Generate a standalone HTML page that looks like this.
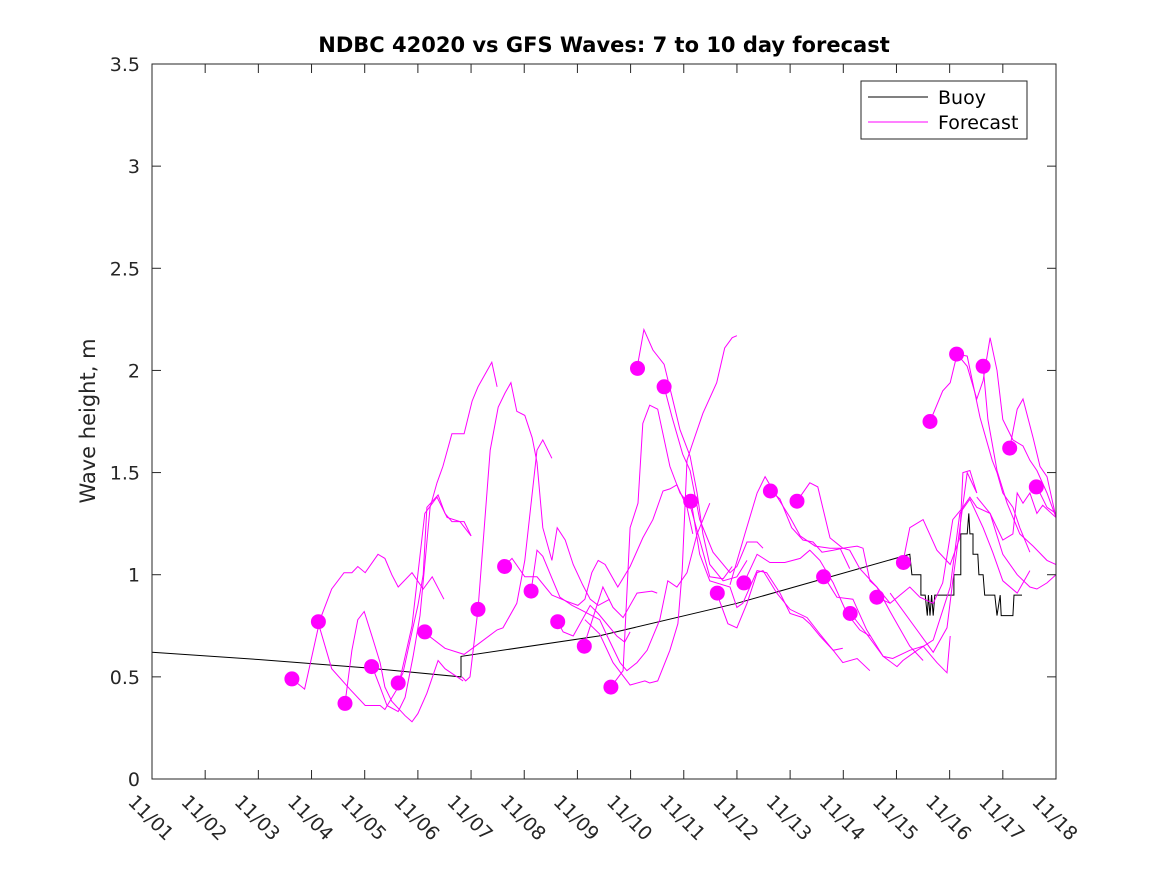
<!DOCTYPE html>
<html><head><meta charset="utf-8"><style>
html,body{margin:0;padding:0;background:#fff;}
svg{display:block;font-family:"DejaVu Sans","Liberation Sans",sans-serif;}
</style></head><body>
<svg id="chart" width="1167" height="875" viewBox="0 0 1167 875" xmlns="http://www.w3.org/2000/svg">
<rect x="0" y="0" width="1167" height="875" fill="#fff"/>
<text x="604" y="52" text-anchor="middle" font-size="21" font-weight="bold" fill="#000">NDBC 42020 vs GFS Waves: 7 to 10 day forecast</text>
<text transform="translate(95,421) rotate(-90)" text-anchor="middle" font-size="21" fill="#262626">Wave height, m</text>
<g id="plot"></g>
<g id="axes"></g>
<g>
<rect x="861" y="81" width="166" height="58" fill="#fff" stroke="#262626" stroke-width="1"/>
<line x1="868" y1="97" x2="928" y2="97" stroke="#000" stroke-width="1"/>
<text x="938" y="104" font-size="19" fill="#000">Buoy</text>
<line x1="868" y1="122" x2="928" y2="122" stroke="#ff00ff" stroke-width="1"/>
<text x="938" y="129" font-size="19" fill="#000">Forecast</text>
</g>
</svg>
<script>
const xTickLabels = ["11/01","11/02","11/03","11/04","11/05","11/06","11/07","11/08","11/09","11/10","11/11","11/12","11/13","11/14","11/15","11/16","11/17","11/18"];
const yTicks = [0,0.5,1,1.5,2,2.5,3,3.5];
const yTickLabels = ["0","0.5","1","1.5","2","2.5","3","3.5"];
const buoyTimes = [0,2,4,5.81,5.81,8.4,11,14.25,14.29,14.46,14.46,14.54,14.58,14.6,14.63,14.66,14.69,14.72,15.08,15.08,15.21,15.21,15.33,15.36,15.38,15.44,15.44,15.53,15.55,15.63,15.66,15.85,15.89,15.95,15.97,16.19,16.21,16.36];
const buoyValues = [0.62,0.585,0.545,0.50,0.60,0.70,0.86,1.10,1.0,1.0,0.9,0.9,0.8,0.9,0.8,0.9,0.8,0.9,0.9,1.0,1.0,1.2,1.2,1.3,1.2,1.2,1.1,1.1,1.0,1.0,0.9,0.9,0.8,0.9,0.8,0.8,0.9,0.9];
const dotTimes = [2.63,3.13,3.63,4.13,4.63,5.13,6.13,6.63,7.13,7.63,8.13,8.63,9.13,9.63,10.13,10.63,11.13,11.63,12.13,12.63,13.13,13.63,14.13,14.63,15.13,15.63,16.13,16.63];
const dotValues = [0.49,0.77,0.37,0.55,0.47,0.72,0.83,1.04,0.92,0.77,0.65,0.45,2.01,1.92,1.36,0.91,0.96,1.41,1.36,0.99,0.81,0.89,1.06,1.75,2.08,2.02,1.62,1.43];
const forecastTimes = [
[2.63,2.87,3.16,3.38,3.61,3.76,3.87,4.01,4.25,4.38,4.51,4.63,4.89,5.10,5.27,5.49],
[3.12,3.38,3.72,4.01,4.29,4.38,4.63,4.89,5.13,5.36,5.55,5.79,6.00],
[3.63,3.76,3.87,3.99,4.16,4.29,4.38,4.51,4.76,4.89,5.00,5.17,5.38,5.51,5.74,5.85],
[4.14,4.29,4.42,4.63,4.76,4.91,5.04,5.13,5.23,5.36,5.47,5.64,5.87,6.02,6.13,6.39,6.49],
[4.63,4.72,4.89,5.00,5.10,5.17,5.38,5.51,5.64,5.87,6.00],
[5.11,5.51,5.87,6.13,6.49,6.60,6.86,7.01,7.24,7.35,7.52],
[5.83,5.90,5.98,6.13,6.36,6.51,6.64,6.75,6.86,7.01,7.15,7.24,7.35,7.52,7.62,7.77,7.92,8.10,8.24,8.39,8.61],
[7.13,7.24,7.35,7.54,7.67,7.90,8.05,8.27,8.42,8.56,8.80,8.93,9.12,9.31,9.55,9.70,9.87,10.06,10.25,10.49],
[6.62,6.77,7.01,7.24,7.52,7.80,8.01,8.14,8.27,8.39,8.52,8.76,8.99,9.23,9.42,9.61,9.74,9.87,10.06,10.17],
[7.63,7.73,7.92,8.24,8.39,8.74,8.89,8.99],
[8.12,8.48,8.67,8.86,9.12,9.40,9.50],
[8.63,8.86,8.99,9.14,9.23,9.36,9.51,9.74,9.93,10.12,10.30,10.49,10.74,10.91],
[8.14,8.42,8.67,8.99,9.27,9.36,9.51,9.74,9.89,9.97,10.06,10.15,10.36,10.62,10.77,10.91,11.00],
[9.12,9.25,9.42,9.63,9.78,9.93,10.12,10.25,10.36,10.49,10.74,11.00,11.19],
[9.63,9.78,9.98,10.12,10.30,10.55,10.87,11.00,11.19,11.38,11.49],
[10.14,10.30,10.49,10.87,11.00,11.11,11.38,11.56,11.81,12.00,12.24,12.37,12.56,12.81,12.99],
[10.87,11.15,11.38,11.53,11.71,12.00,12.19,12.47,12.75,12.94,13.12],
[10.62,10.83,11.00,11.19,11.38,11.49,11.75,12.00,12.32,12.56,12.81,12.99,13.26,13.50],
[11.13,11.38,11.62,11.90,12.19,12.37,12.56,12.81,13.07,13.31,13.50],
[11.64,11.81,12.03,12.24,12.43,12.60,12.81,12.99,13.12,13.31,13.63,13.88],
[12.13,12.37,12.52,12.75,12.99,13.26,13.37,13.50,13.63,13.88,14.25,14.50],
[12.64,12.88,13.18,13.44,13.75,13.93,14.25,14.50,14.76,14.95,15.01],
[13.14,13.44,13.75,14.01,14.12,14.39,14.69,15.01,15.19,15.38,15.63,15.81,16.00,16.27,16.51],
[13.63,13.88,14.25,14.44,14.69,14.87,15.06,15.25,15.38,15.51,15.76,16.00,16.19,16.27,16.38,16.51,16.64,16.75,17.00],
[14.12,14.25,14.50,14.76,15.01,15.19,15.25,15.38,15.51],
[13.88,14.44,14.69,14.95,15.06,15.33,15.51],
[14.63,14.87,15.01,15.14,15.33,15.51,15.63,15.76,15.89,16.00,16.19,16.38,16.51,16.64,16.83,17.00],
[15.14,15.33,15.57,15.80,15.89,16.00,16.19,16.32,16.51],
[15.63,15.72,15.89,16.08,16.32,16.57,16.83,17.00],
[16.13,16.27,16.38,16.57,16.70,16.83,17.00],
[16.64,16.83,17.00],
[15.51,15.76,16.00,16.27,16.51,16.64,16.83,17.00]
];
const forecastValues = [
[0.49,0.44,0.78,0.93,1.01,1.01,1.04,1.01,1.10,1.08,1.00,0.94,1.01,0.93,0.99,0.88],
[0.77,0.54,0.44,0.36,0.36,0.34,0.45,0.75,1.30,1.38,1.28,1.26,1.19],
[0.37,0.63,0.78,0.82,0.68,0.57,0.45,0.38,0.31,0.28,0.32,0.42,0.58,0.54,0.50,0.48],
[0.55,0.45,0.36,0.33,0.40,0.60,0.80,1.05,1.33,1.45,1.53,1.69,1.69,1.85,1.92,2.04,1.92],
[0.47,0.52,0.72,0.85,1.00,1.33,1.39,1.30,1.26,1.26,1.19],
[0.72,0.64,0.61,0.66,0.73,0.74,0.86,1.07,1.61,1.66,1.57],
[0.50,0.48,0.50,0.83,1.61,1.82,1.89,1.94,1.80,1.78,1.67,1.55,1.23,1.07,1.23,1.17,1.05,0.95,0.88,0.85,0.88],
[0.92,1.12,1.09,0.97,0.89,0.85,0.83,0.80,0.78,0.70,0.57,0.53,0.57,0.63,0.78,0.97,0.94,1.01,1.20,1.35],
[1.04,1.08,0.99,0.99,0.90,0.87,0.85,0.88,1.01,1.07,1.05,0.94,1.04,1.18,1.27,1.41,1.42,1.44,1.33,1.20],
[0.77,0.72,0.70,0.85,0.81,0.70,0.67,0.72],
[0.65,0.94,0.84,0.79,0.91,0.92,0.91],
[0.45,0.53,1.23,1.35,1.74,1.83,1.81,1.53,1.40,1.34,1.17,0.99,0.98,1.04],
[0.78,0.71,0.57,0.46,0.48,0.47,0.48,0.63,0.76,1.02,1.56,1.63,1.79,1.94,2.11,2.16,2.17],
[2.01,2.20,2.10,2.03,1.87,1.71,1.58,1.40,1.20,1.05,0.97,0.99,1.07],
[1.92,1.77,1.59,1.51,1.27,1.11,1.01,1.04,1.16,1.16,1.13],
[1.36,1.10,0.97,0.94,0.84,0.86,1.02,1.01,0.91,0.81,0.79,0.76,0.70,0.63,0.64],
[0.95,1.20,1.40,1.48,1.40,1.28,1.19,1.14,1.13,1.13,1.03],
[0.91,0.76,0.74,0.86,1.01,1.02,0.91,0.83,0.79,0.71,0.63,0.57,0.59,0.53],
[0.96,1.10,1.06,1.06,1.08,1.12,1.07,0.96,0.81,0.73,0.70],
[1.41,1.37,1.23,1.17,1.16,1.11,1.12,1.13,1.12,1.03,0.94,0.86],
[1.36,1.45,1.43,1.18,1.13,1.14,1.13,0.97,0.94,0.82,0.65,0.58],
[0.99,0.89,0.88,0.73,0.60,0.59,0.63,0.65,0.57,0.52,0.70],
[0.81,0.71,0.60,0.55,0.58,0.63,0.68,0.94,1.30,1.37,1.23,1.11,0.97,0.91,1.02],
[0.89,0.86,0.94,0.89,0.86,0.96,1.27,1.33,1.38,1.33,1.30,1.17,1.20,1.40,1.35,1.40,1.30,1.34,1.28],
[1.06,1.23,1.27,1.12,1.05,1.18,1.50,1.51,1.40],
[0.91,0.71,0.62,0.74,0.97,1.50,1.40],
[1.75,1.90,1.94,2.08,2.02,1.86,1.95,2.16,2.00,1.76,1.66,1.63,1.56,1.51,1.40,1.28],
[2.08,2.07,1.77,1.56,1.50,1.40,1.33,1.23,1.11],
[2.02,1.76,1.51,1.35,1.20,1.14,1.07,1.05],
[1.62,1.81,1.86,1.67,1.53,1.48,1.28],
[1.43,1.33,1.30],
[1.38,1.30,1.10,1.00,0.94,0.93,0.96,1.00]
];

const NS = "http://www.w3.org/2000/svg";
const L = 152, R = 1056, T = 64, B = 779;
const xMin = 0, xMax = 17, yMin = 0, yMax = 3.5;
function xScale(d){ return L + (d - xMin) / (xMax - xMin) * (R - L); }
function yScale(v){ return B - (v - yMin) / (yMax - yMin) * (B - T); }
function mk(tag, attrs, parent){
  const e = document.createElementNS(NS, tag);
  for (const k in attrs) e.setAttribute(k, attrs[k]);
  parent.appendChild(e);
  return e;
}
const plot = document.getElementById('plot');
const axes = document.getElementById('axes');

const defs = mk('defs', {}, plot);
const cp = mk('clipPath', {id: 'clip'}, defs);
mk('rect', {x: L, y: T, width: R - L, height: B - T}, cp);
const g = mk('g', {'clip-path': 'url(#clip)'}, plot);



let bd = buoyTimes.map((t, i) => (i ? 'L' : 'M') + xScale(t).toFixed(1) + ' ' + yScale(buoyValues[i]).toFixed(1)).join(' ');
const bp = mk('path', {d: bd, fill: 'none', stroke: '#000', 'stroke-width': 1}, g);



forecastTimes.forEach((ts, j) => {
  const vs = forecastValues[j];
  const d = ts.map((t, i) => (i ? 'L' : 'M') + xScale(t).toFixed(1) + ' ' + yScale(vs[i]).toFixed(1)).join(' ');
  const p = mk('path', {d: d, fill: 'none', stroke: '#ff00ff', 'stroke-width': 1}, g);
  
  
});

dotTimes.forEach((t, i) => {
  const c = mk('circle', {cx: xScale(t).toFixed(1), cy: yScale(dotValues[i]).toFixed(1), r: 7.5, fill: '#ff00ff'}, plot);
  
  
});

const fr = mk('rect', {x: L, y: T, width: R - L, height: B - T, fill: 'none', stroke: '#262626', 'stroke-width': 1}, axes);



yTicks.forEach((v, i) => {
  const y = yScale(v);
  const t1 = mk('line', {x1: L, y1: y, x2: L + 9, y2: y, stroke: '#262626'}, axes);
  
  
  const t2 = mk('line', {x1: R, y1: y, x2: R - 9, y2: y, stroke: '#262626'}, axes);
  
  
  const tx = mk('text', {x: L - 12, y: y + 7, 'text-anchor': 'end', 'font-size': 19, fill: '#262626'}, axes);
  tx.textContent = yTickLabels[i];
  
  
});

xTickLabels.forEach((lab, i) => {
  const x = xScale(i);
  const t1 = mk('line', {x1: x, y1: B, x2: x, y2: B - 9, stroke: '#262626'}, axes);
  
  
  const t2 = mk('line', {x1: x, y1: T, x2: x, y2: T + 9, stroke: '#262626'}, axes);
  
  
  const tx = mk('text', {transform: 'translate(' + (x - 25) + ',803) rotate(45)', 'font-size': 19, fill: '#262626'}, axes);
  tx.textContent = lab;
  
  
});
</script>
</body></html>
